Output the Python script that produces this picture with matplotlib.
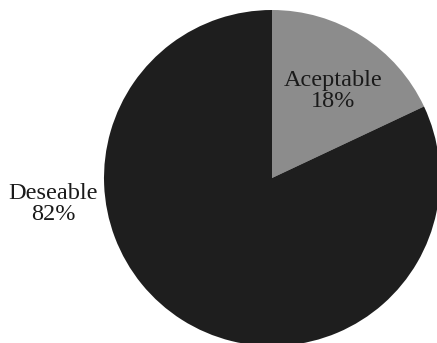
import matplotlib
matplotlib.use("Agg")
import matplotlib.pyplot as plt

categories = ["Aceptable", "Deseable"]
shares = [18, 82]
colors = ["#8c8c8c", "#1e1e1e"]

plt.rcParams['font.family'] = ['Liberation Serif', 'DejaVu Serif']

fig = plt.figure(figsize=(4.37, 3.43), dpi=100)
# pie circle: centre ~ (272,178) px, radius ~168 px
ax = fig.add_axes([104 / 437, (343 - 346) / 343, 336 / 437, 336 / 343])
ax.pie(shares, colors=colors, startangle=90, counterclock=False,
       wedgeprops=dict(linewidth=0))
ax.set_xlim(-1, 1)
ax.set_ylim(-1, 1)
ax.set_aspect('equal')
ax.axis('off')

label_pos = {"Aceptable": (0.363, 0.52), "Deseable": (-1.304, -0.155)}
for name, val in zip(categories, shares):
    x, y = label_pos[name]
    ax.text(x, y, f"{name}\n{val}%", ha='center', va='center',
            fontsize=17.5, color='#1a1a1a', linespacing=1.0, clip_on=False)

fig.savefig("out.png", dpi=100, facecolor='white')
